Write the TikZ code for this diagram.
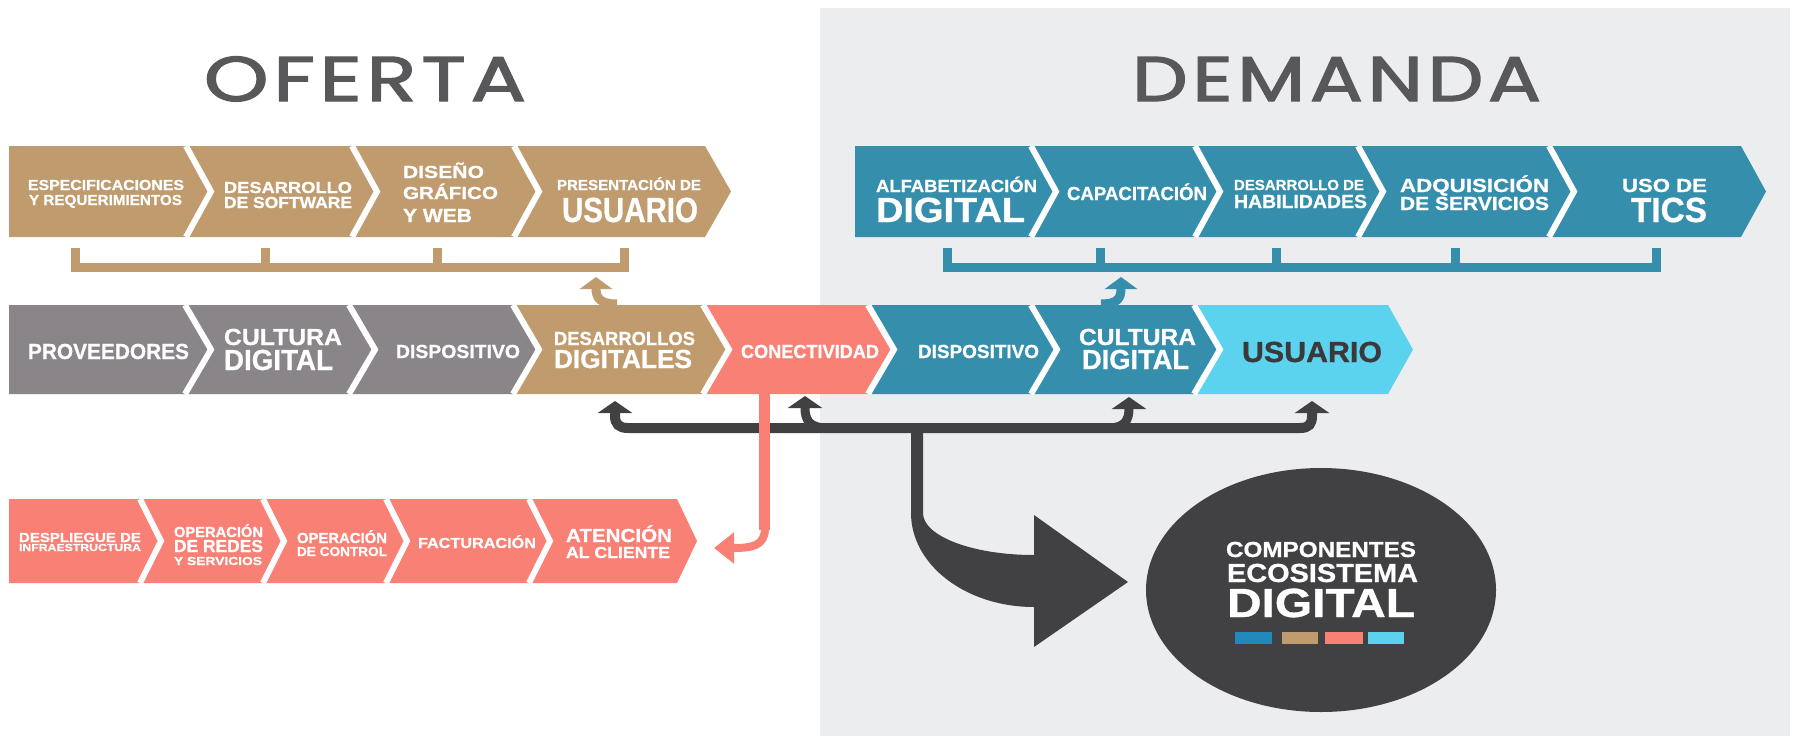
\documentclass[tikz,border=0pt]{standalone}
\usepackage{fontspec}
\usepackage{graphicx}
\usetikzlibrary{arrows.meta,shapes.geometric}
\newfontfamily\labf{Liberation Sans}[FakeBold=0.8]
\newfontfamily\ttlf{Poppins}[LetterSpace=6,FakeBold=2]
\definecolor{tanC}{HTML}{BF9B6E}
\definecolor{tealC}{HTML}{358EAB}
\definecolor{grayC}{HTML}{898589}
\definecolor{salC}{HTML}{F98074}
\definecolor{cyanC}{HTML}{5BD3EE}
\definecolor{darkC}{HTML}{414042}
\definecolor{bgC}{HTML}{ECEDEF}
\definecolor{titleC}{HTML}{58585A}
\definecolor{blueBar}{HTML}{2289BB}
\definecolor{usrC}{HTML}{3B393B}
\newlength\clw
\newlength\clh
\newcommand\cl[4]{%
  \settowidth\clw{#1\fontsize{10}{12}\selectfont #4}%
  \settoheight\clh{#1\fontsize{10}{12}\selectfont H}%
  \pgfmathsetmacro\clsx{#2/\clw}%
  \pgfmathsetmacro\clsy{#3/\clh}%
  \scalebox{\clsx}[\clsy]{#1\fontsize{10}{12}\selectfont #4}}
\newcommand\lbf{\labf\bfseries}
\newcommand\tx[6]{\node[lab] (#1) at (#2,#3) {\cl{\lbf}{#4}{#5}{#6}};}
\newcommand\segA[6]{\fill[#6] (#1,#3) -- (#2,#3) -- ({#2+#5},{(#3+#4)/2}) -- (#2,#4) -- (#1,#4) -- cycle;}
\newcommand\segB[6]{\fill[#6] (#1,#3) -- (#2,#3) -- ({#2+#5},{(#3+#4)/2}) -- (#2,#4) -- (#1,#4) -- ({#1+#5},{(#3+#4)/2}) -- cycle;}
\newcommand\sepl[4]{\draw[white,line width=6pt] (#1,#2) -- ({#1+#4},{(#2+#3)/2}) -- (#1,#3);}
\begin{document}
\begin{tikzpicture}[x=1pt,y=-1pt,
  lab/.style={inner sep=0pt, anchor=base, text=white},
  dhead/.style={-{Triangle[width=34pt,length=12pt]}}]
\useasboundingbox (0,0) rectangle (1793,736);
\fill[white] (0,0) rectangle (1793,736);
\fill[bgC] (820,8) rectangle (1790,736);

% titles
\node[inner sep=0pt, anchor=base, text=titleC] (oferta) at (365,101) {\cl{\ttlf}{322}{44}{OFERTA}};
\node[inner sep=0pt, anchor=base, text=titleC] (demanda) at (1336.5,101) {\cl{\ttlf}{409}{44}{DEMANDA}};

% ---------- top tan row
\segA{9}{186}{146}{237}{25}{tanC}
\segB{186}{352}{146}{237}{25}{tanC}
\segB{352}{514}{146}{237}{25}{tanC}
\segB{514}{705}{146}{237}{26}{tanC}
% ---------- top teal row
\segA{855}{1031}{146}{237}{25}{tealC}
\segB{1031}{1195}{146}{237}{25}{tealC}
\segB{1195}{1358}{146}{237}{25}{tealC}
\segB{1358}{1549}{146}{237}{25}{tealC}
\segB{1549}{1741}{146}{237}{25}{tealC}
\begin{scope}
\clip (0,146) rectangle (1793,237);
\sepl{186}{146}{237}{25}\sepl{352}{146}{237}{25}\sepl{514}{146}{237}{25}
\sepl{1031}{146}{237}{25}\sepl{1195}{146}{237}{25}\sepl{1358}{146}{237}{25}\sepl{1549}{146}{237}{25}
\end{scope}

% ---------- middle row
\segA{9}{185}{305}{394}{26}{grayC}
\segB{185}{349}{305}{394}{26}{grayC}
\segB{349}{513}{305}{394}{26}{grayC}
\segB{513}{703}{305}{394}{26}{tanC}
\segB{703}{868}{305}{394}{26}{salC}
\segB{868}{1031}{305}{394}{26}{tealC}
\segB{1031}{1194}{305}{394}{26}{tealC}
\segB{1194}{1388}{305}{394}{25}{cyanC}
\begin{scope}
\clip (0,305) rectangle (1793,394);
\sepl{185}{305}{394}{26}\sepl{349}{305}{394}{26}\sepl{513}{305}{394}{26}\sepl{703}{305}{394}{26}
\sepl{868}{305}{394}{26}\sepl{1031}{305}{394}{26}\sepl{1194}{305}{394}{26}
\end{scope}

% ---------- bottom salmon row
\segA{9}{140}{499}{583}{21}{salC}
\segB{140}{263}{499}{583}{21}{salC}
\segB{263}{386}{499}{583}{21}{salC}
\segB{386}{529}{499}{583}{21}{salC}
\segB{529}{677}{499}{583}{20}{salC}
\begin{scope}
\clip (0,499) rectangle (1793,583);
\sepl{140}{499}{583}{21}\sepl{263}{499}{583}{21}\sepl{386}{499}{583}{21}\sepl{529}{499}{583}{21}
\end{scope}

% ---------- brackets
\coordinate (tb1) at (75.5,248); \coordinate (tb2) at (265.5,248);
\coordinate (tb3) at (437.7,248); \coordinate (tb4) at (624,248);
\draw[tanC, line width=9pt] (tb1) -- (75.5,267.5) -- (624,267.5) -- (tb4);
\draw[tanC, line width=9pt] (tb2) -- (265.5,267.5) (tb3) -- (437.7,267.5);
\coordinate (bb1) at (947,248); \coordinate (bb5) at (1656,248);
\draw[tealC, line width=9pt] (bb1) -- (947,267.5) -- (1656,267.5) -- (bb5);
\draw[tealC, line width=9pt] (1100,248) -- (1100,267.5) (1276,248) -- (1276,267.5) (1455,248) -- (1455,267.5);

% small curved arrows up
\coordinate (desT) at (617,304); \coordinate (tanTip) at (596,277);
\draw[tanC, line width=9pt, -{Triangle[width=32pt,length=12pt]}] (desT) .. controls (600,304) and (596,298) .. (tanTip);
\coordinate (culT) at (1101,304); \coordinate (tealTip) at (1121,277);
\draw[tealC, line width=9pt, -{Triangle[width=32pt,length=12pt]}] (culT) .. controls (1118,304) and (1121,298) .. (tealTip);

% ---------- dark bar with arrows
\coordinate (a1) at (615,401); \coordinate (a4) at (1312,401);
\draw[darkC, line width=10pt, {Triangle[width=34pt,length=12pt]}-{Triangle[width=34pt,length=12pt]}]
  (a1) -- (615,416) .. controls (615,424) and (619,428) .. (628,428) -- (1300,428)
  .. controls (1309,428) and (1312,424) .. (1312,416) -- (a4);
\coordinate (a2) at (805,396); \coordinate (a3) at (1129,397);
\draw[darkC, line width=9pt, dhead] (828,428) .. controls (809,428) and (805,420) .. (a2);
\draw[darkC, line width=9pt, dhead] (1108,428) .. controls (1125,428) and (1129,420) .. (a3);

% big arrow to ellipse
\fill[darkC] (911,428) -- (911,513) .. controls (911,565) and (966,607) .. (1034,607)
  -- (1034,647) -- (1128,582) -- (1034,515) -- (1034,555)
  .. controls (972,555) and (923,536) .. (923,513) -- (923,428) -- cycle;

% salmon arrow
\coordinate (conB) at (764.5,394); \coordinate (salTip) at (714,548);
\draw[salC, line width=11pt] (conB) -- (764.5,530);
\draw[salC, line width=8pt, -{Triangle[width=30pt,length=20pt]}] (765,528) .. controls (765,546) and (752,548) .. (salTip);

% ellipse
\node[ellipse, fill=darkC, minimum width=350pt, minimum height=244pt, inner sep=0pt] (eco) at (1321,590) {};
\tx{e1}{1321}{557}{190}{15}{COMPONENTES}
\tx{e2}{1322.5}{582}{191}{18}{ECOSISTEMA}
\tx{e3}{1321}{617}{188}{28}{DIGITAL}
\fill[blueBar] (1235,632) rectangle (1272,644);
\fill[tanC] (1282,632) rectangle (1318,644);
\fill[salC] (1325,632) rectangle (1363,644);
\fill[cyanC] (1368,632) rectangle (1404,644);

% ---------- texts top tan
\tx{t1a}{106}{190}{156}{10}{ESPECIFICACIONES}
\tx{t1b}{105.5}{205}{153}{10}{Y REQUERIMIENTOS}
\tx{t2a}{288}{193}{128}{11}{DESARROLLO}
\tx{t2b}{288}{208}{128}{11}{DE SOFTWARE}
\tx{t3a}{443.5}{178}{81}{12}{DISEÑO}
\tx{t3b}{450.5}{199}{95}{12}{GRÁFICO}
\tx{t3c}{437.5}{222}{69}{13}{Y WEB}
\tx{t4a}{629}{190}{144}{10}{PRESENTACIÓN DE}
\tx{t4b}{630}{222}{136}{24}{USUARIO}
% top teal
\tx{d1a}{956.5}{192}{161}{12}{ALFABETIZACIÓN}
\tx{d1b}{950.5}{222}{149}{24}{DIGITAL}
\tx{d2}{1137}{200}{140}{13}{CAPACITACIÓN}
\tx{d3a}{1299}{190}{130}{10}{DESARROLLO DE}
\tx{d3b}{1300.5}{208}{133}{13}{HABILIDADES}
\tx{d4a}{1474.5}{192}{149}{13}{ADQUISICIÓN}
\tx{d4b}{1474.5}{210}{149}{13}{DE SERVICIOS}
\tx{d5a}{1664.5}{192}{85}{13}{USO DE}
\tx{d5b}{1669}{222}{76}{24}{TICS}
% middle
\tx{m1}{108.5}{359}{161}{15}{PROVEEDORES}
\tx{m2a}{283}{345}{118}{16}{CULTURA}
\tx{m2b}{278.5}{370}{109}{20}{DIGITAL}
\tx{m3}{458}{358}{124}{13}{DISPOSITIVO}
\tx{m4a}{624.5}{345}{141}{13}{DESARROLLOS}
\tx{m4b}{623}{368}{138}{18}{DIGITALES}
\tx{m5}{810}{358}{138}{13}{CONECTIVIDAD}
\tx{m6}{978.5}{358}{121}{13}{DISPOSITIVO}
\tx{m7a}{1137.5}{345}{117}{16}{CULTURA}
\tx{m7b}{1135.5}{369}{107}{19}{DIGITAL}
\node[lab, text=usrC] (m8) at (1312,362) {\cl{\lbf}{140}{20}{USUARIO}};
% bottom
\tx{b1a}{80}{542}{122}{9}{DESPLIEGUE DE}
\tx{b1b}{80}{551}{122}{7}{INFRAESTRUCTURA}
\tx{b2a}{218.5}{537}{89}{10}{OPERACIÓN}
\tx{b2b}{218.5}{552}{89}{12}{DE REDES}
\tx{b2c}{218}{565}{88}{8}{Y SERVICIOS}
\tx{b3a}{342}{543}{90}{10}{OPERACIÓN}
\tx{b3b}{342}{556}{90}{9}{DE CONTROL}
\tx{b4}{477}{548}{118}{10}{FACTURACIÓN}
\tx{b5a}{619}{542}{106}{13}{ATENCIÓN}
\tx{b5b}{618}{558}{104}{11}{AL CLIENTE}
\end{tikzpicture}
\end{document}
